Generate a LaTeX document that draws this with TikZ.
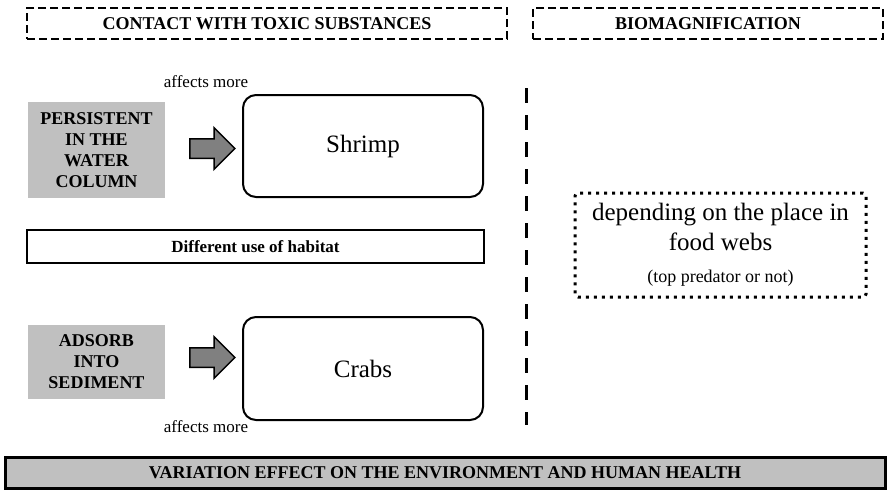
\documentclass[tikz,border=0pt]{standalone}
\usepackage{fontspec}
\setmainfont{Liberation Serif}[BoldFont={Liberation Serif Bold}]
\usetikzlibrary{positioning,shapes.arrows}
\definecolor{boxgray}{RGB}{192,192,192}
\definecolor{arrowgray}{RGB}{128,128,128}

\begin{document}
\begin{tikzpicture}[x=1pt,y=-1pt,
  headbox/.style={draw, line width=2pt, dash pattern=on 8pt off 4pt, minimum height=31pt, inner sep=0pt, font=\fontsize{18}{21}\selectfont\bfseries},
  srcbox/.style={fill=boxgray, minimum width=137pt, inner sep=0pt, align=center, font=\fontsize{18}{21}\selectfont\bfseries},
  animalbox/.style={draw, line width=2pt, rounded corners=13pt, minimum width=240pt, minimum height=102pt, font=\fontsize{25}{30}\selectfont},
  blockarrow/.style={single arrow, draw, line width=1.5pt, fill=arrowgray, minimum height=45pt, inner xsep=0pt, inner ysep=9pt, single arrow head extend=11pt},
  note/.style={font=\fontsize{17}{20}\selectfont},
  habitatbox/.style={draw, line width=2.5pt, minimum width=457pt, minimum height=33pt, font=\fontsize{17}{20}\selectfont\bfseries},
  webbox/.style={draw, line width=3pt, dash pattern=on 3pt off 5pt, rounded corners=3pt, minimum width=291pt, minimum height=104pt, align=center, font=\fontsize{25}{30}\selectfont},
  resultbox/.style={draw, fill=boxgray, line width=3pt, minimum width=880pt, minimum height=31pt, font=\fontsize{18}{21}\selectfont\bfseries},
  divider/.style={line width=3pt, dash pattern=on 15pt off 12pt}]
\useasboundingbox (0,0) rectangle (888,490);

% headings
\node[headbox, minimum width=480pt] (contact) at (267,23.5) {CONTACT WITH TOXIC SUBSTANCES};
\node[headbox, minimum width=350pt] (bio) at (708,23.5) {BIOMAGNIFICATION};

% water column -> shrimp
\node[note] (aff1) at (206,82) {affects more};
\node[srcbox, minimum height=96pt] (persist) at (96.5,150) {PERSISTENT\\IN THE\\WATER\\COLUMN};
\node[blockarrow] (arrA) at (207.5,148.5) {};
\node[animalbox] (shrimp) at (363,146) {Shrimp};

\node[habitatbox] (habitat) at (255.5,246.5) {Different use of habitat};

% sediment -> crabs
\node[srcbox, minimum height=74pt] (adsorb) at (96.5,362) {ADSORB\\INTO\\SEDIMENT};
\node[blockarrow] (arrB) at (207.5,357.5) {};
\node[animalbox, minimum height=103pt] (crabs) at (363,368.5) {Crabs};
\node[note] (aff2) at (206,427) {affects more};

% separator
\coordinate (divtop) at (526,88);
\coordinate (divbot) at (526,425);
\draw[divider] (divtop) -- (divbot);

\node[webbox] (web) at (720.5,245) {depending on the place in\\food webs\\[2pt]{\fontsize{18}{21}\selectfont (top predator or not)}};

\node[resultbox] (result) at (445,472.5) {VARIATION EFFECT ON THE ENVIRONMENT AND HUMAN HEALTH};
\end{tikzpicture}
\end{document}
